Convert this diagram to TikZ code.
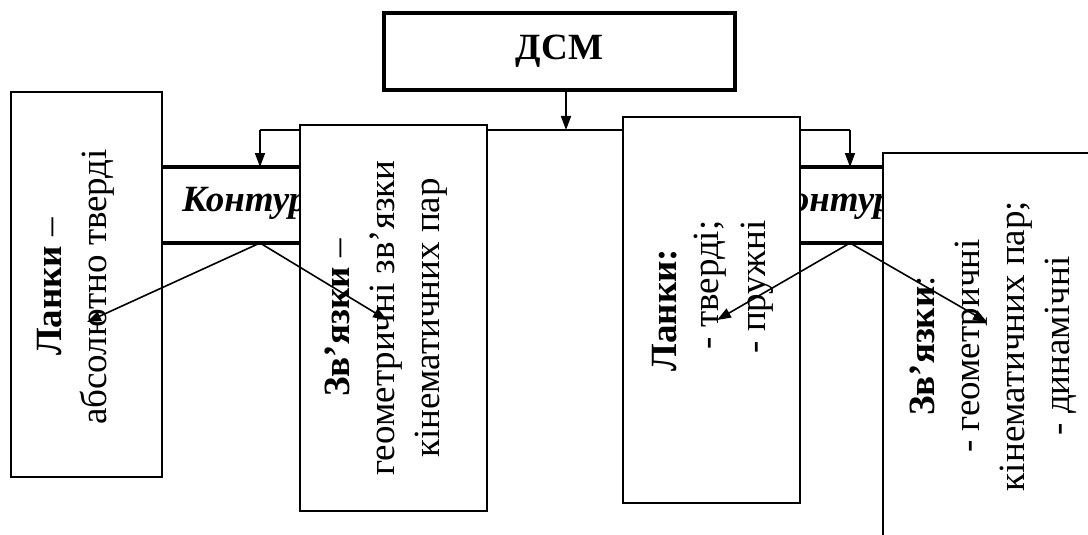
\documentclass[tikz,border=0pt]{standalone}
\usepackage{fontspec}
\setmainfont{Liberation Serif}
\usetikzlibrary{arrows.meta,calc}
\begin{document}
\begin{tikzpicture}[x=1pt,y=-1pt,
  box/.style={draw, line width=1.7pt, fill=white, inner sep=0pt, outer sep=0pt},
  kbox/.style={draw, line width=3.5pt, fill=white, inner sep=0pt, outer sep=0pt},
  big/.style={font=\fontsize{37}{45}\selectfont},
  txt/.style={big, rotate=90, align=center, inner sep=0pt},
  ktxt/.style={anchor=base west, inner sep=0pt, font=\fontsize{37}{45}\selectfont\bfseries\itshape},
  con/.style={line width=1.6pt},
  arr/.style={con, -{Triangle[length=14pt,width=10pt]}}]
\useasboundingbox (0,0) rectangle (1088,535);
\clip (0,0) rectangle (1088,535);
% top box
\node[box, line width=4pt, minimum width=351pt, minimum height=77pt, big] (dsm) at (559.5,51.5) {\textbf{ДСМ}};
% junctions
\coordinate (hub) at (566,130);
\coordinate (jL) at (260,130);
\coordinate (jR) at (850,130);
\draw[arr] (dsm.south -| hub) -- (hub);
\draw[con] (jL) -- (jR);
% contour boxes
\node[kbox, minimum width=160pt, minimum height=76pt] (k1) at (230,205) {};
\node[kbox, minimum width=120pt, minimum height=76pt] (k2) at (840,205) {};
\node[ktxt] (k1t) at (182,211) {Контур};
\node[ktxt] (k2t) at (767,211) {Контур};
\draw[arr] (jL) -- (jL |- k1.north);
\draw[arr] (jR) -- (jR |- k2.north);
% white boxes
\node[box, minimum width=151pt, minimum height=385pt] (l1) at (86.5,284.5) {};
\node[box, minimum width=187pt, minimum height=386pt] (z1) at (393.5,318) {};
\node[box, minimum width=177pt, minimum height=386pt] (l2) at (711.5,310) {};
\node[box, minimum width=230pt, minimum height=420pt] (z2) at (998,363) {};
% texts
\node[txt] (l1t) at (76,287) {\textbf{Ланки} –\\абсолютно тверді};
\node[txt] (z1t) at (386,318) {\textbf{Зв’язки} –\\геометричні зв’язки\\кінематичних пар};
\node[txt] (l2a) at (665,310) {\textbf{Ланки:}};
\node[txt] (l2b) at (710,285) {- тверді;};
\node[txt] (l2c) at (757,287) {- пружні};
\node[txt] (z2t) at (993,346) {\textbf{Зв’язки}:\\- геометричні\\кінематичних пар;\\- динамічні};
% diagonal arrows
\coordinate (t1) at (87,322);
\coordinate (t2) at (387,320);
\coordinate (t3) at (717,320);
\coordinate (t4) at (987,322);
\draw[arr] (jL |- k1.south) -- (t1);
\draw[arr] (jL |- k1.south) -- (t2);
\draw[arr] (jR |- k2.south) -- (t3);
\draw[arr] (jR |- k2.south) -- (t4);
\end{tikzpicture}
\end{document}
